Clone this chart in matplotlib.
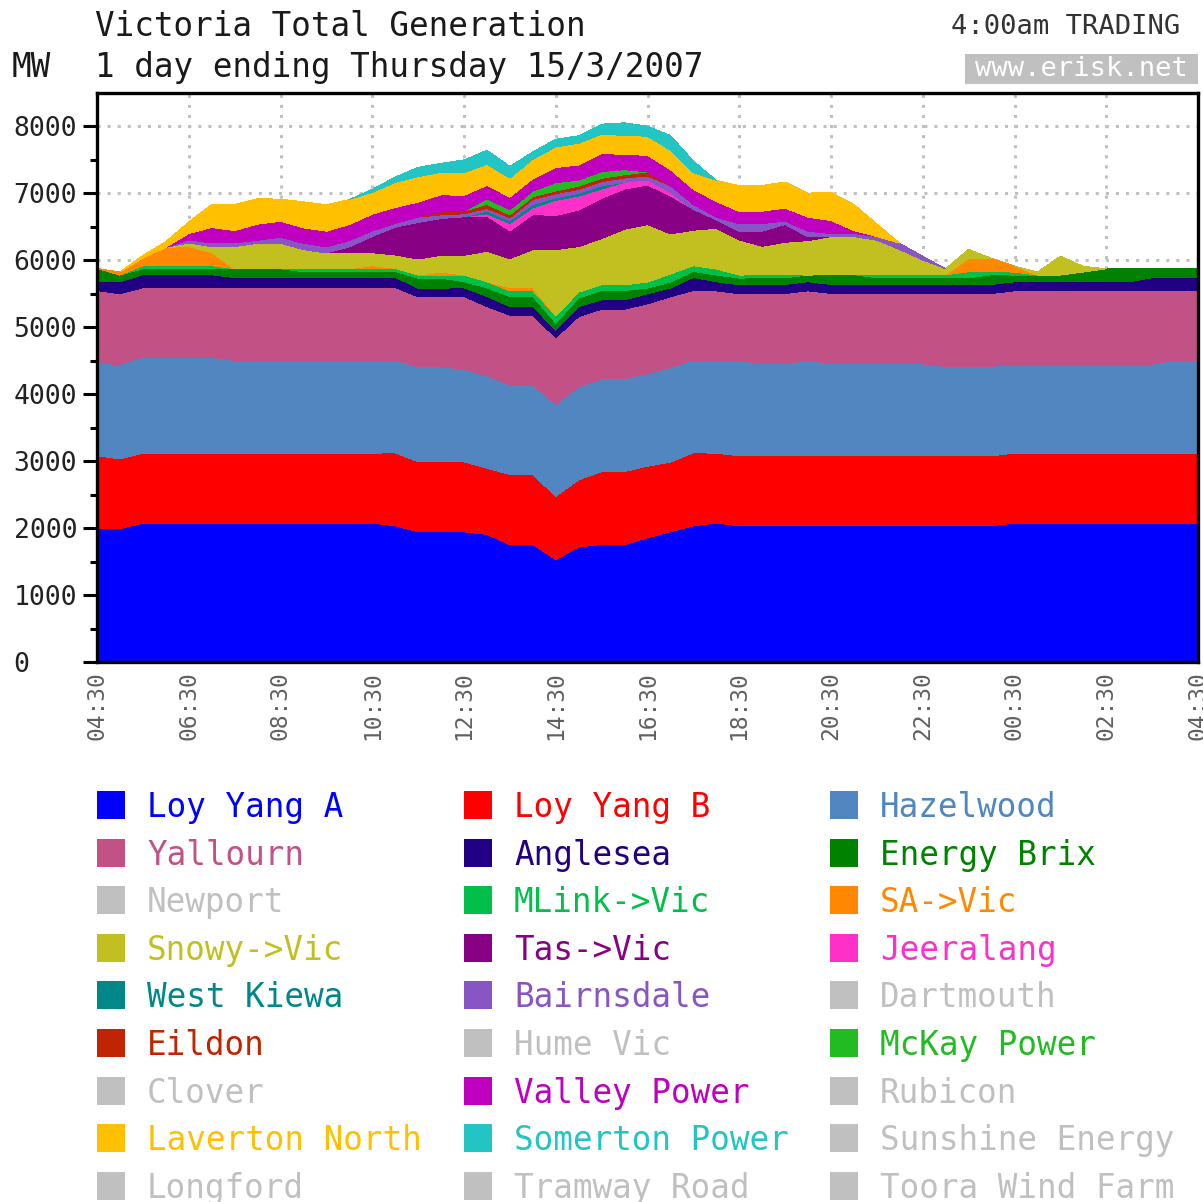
import numpy as np
import matplotlib
matplotlib.use('Agg')
import matplotlib.pyplot as plt
from matplotlib.patches import Rectangle

# half-hour periods, 04:30 -> 04:30 next day
periods = np.arange(49)
time_labels = ['04:30', '06:30', '08:30', '10:30', '12:30', '14:30', '16:30',
               '18:30', '20:30', '22:30', '00:30', '02:30', '04:30']

# MW per station
loy_yang_a = [1990, 1990, 2075, 2075, 2075, 2075, 2075, 2075, 2075, 2075, 2075, 2075, 2075,
              2035, 1945, 1945, 1945, 1905, 1755, 1755, 1530, 1720, 1755, 1755, 1855,
              1945, 2035, 2075, 2035, 2035, 2035, 2035, 2035, 2035, 2035, 2035, 2035,
              2035, 2035, 2035, 2075, 2075, 2075, 2075, 2075, 2075, 2075, 2075, 2075]
loy_yang_b = [1090, 1045, 1045, 1045, 1045, 1045, 1045, 1045, 1045, 1045, 1045, 1045, 1045,
              1090, 1045, 1045, 1045, 990, 1045, 1045, 945, 1000, 1090, 1090, 1070,
              1040, 1090, 1045, 1045, 1045, 1045, 1045, 1045, 1045, 1045, 1045, 1045,
              1045, 1045, 1045, 1045, 1045, 1045, 1045, 1045, 1045, 1045, 1045, 1045]
hazelwood = [1375, 1415, 1430, 1430, 1430, 1430, 1385, 1385, 1385, 1385, 1385, 1385, 1385,
             1385, 1420, 1420, 1380, 1380, 1335, 1335, 1375, 1390, 1385, 1385, 1380,
             1415, 1385, 1385, 1425, 1375, 1375, 1425, 1375, 1375, 1375, 1375, 1375,
             1335, 1335, 1335, 1330, 1330, 1330, 1330, 1330, 1330, 1330, 1385, 1385]
yallourn = [1095, 1050, 1040, 1040, 1040, 1040, 1085, 1085, 1085, 1085, 1085, 1085, 1085,
            1085, 1045, 1045, 1090, 1035, 1045, 1045, 995, 1050, 1040, 1040, 1045,
            1055, 1040, 1040, 995, 1050, 1050, 1040, 1050, 1050, 1050, 1050, 1050,
            1090, 1090, 1090, 1095, 1095, 1095, 1095, 1095, 1095, 1095, 1040, 1040]
anglesea = [135, 180, 195, 195, 195, 195, 150, 150, 150, 150, 150, 150, 150,
            150, 130, 130, 130, 150, 130, 130, 110, 150, 140, 140, 150,
            130, 195, 135, 135, 135, 135, 135, 135, 135, 135, 135, 135,
            135, 135, 135, 135, 135, 135, 135, 135, 135, 195, 195, 195]
energy_brix = [195, 100, 90, 90, 90, 90, 135, 135, 135, 90, 90, 90, 90,
               90, 150, 150, 90, 130, 150, 150, 105, 130, 140, 140, 85,
               90, 90, 100, 100, 100, 100, 100, 145, 145, 100, 100, 100,
               100, 100, 145, 100, 100, 100, 145, 195, 195, 135, 135, 135]
mlink = [0, 0, 45, 45, 45, 45, 0, 0, 0, 45, 45, 45, 45,
         45, 45, 45, 100, 90, 85, 85, 110, 85, 85, 85, 90,
         120, 85, 90, 45, 45, 45, 0, 0, 0, 45, 45, 45,
         45, 90, 45, 45, 0, 0, 0, 0, 0, 0, 0, 0]
sa_vic = [0, 45, 110, 275, 285, 195, 0, 0, 0, 0, 0, 0, 45,
          0, 0, 45, 0, 0, 45, 45, 0, 0, 0, 0, 0,
          0, 0, 0, 0, 0, 0, 0, 0, 0, 0, 0, 0,
          0, 200, 200, 90, 0, 0, 0, 0, 0, 0, 0, 0]
snowy_vic = [0, 0, 0, 0, 55, 90, 330, 380, 380, 285, 235, 235, 195,
             200, 240, 250, 295, 455, 435, 570, 990, 680, 690, 830, 860,
             600, 530, 610, 525, 425, 485, 515, 570, 570, 515, 375, 220,
             90, 135, 0, 0, 45, 285, 85, 0, 0, 0, 0, 0]
tas_vic = [0, 0, 0, 0, 0, 0, 0, 0, 0, 0, 0, 90, 240,
           415, 545, 550, 575, 525, 415, 525, 510, 545, 600, 600, 590,
           570, 310, 125, 125, 225, 265, 55, 0, 0, 0, 0, 0,
           0, 0, 0, 0, 0, 0, 0, 0, 0, 0, 0, 0]
jeeralang = [0] * 17 + [35, 110, 100, 225, 210, 140, 100, 75, 50] + [0] * 23
west_kiewa = [0] * 17 + [40, 45, 50, 40, 40, 50] + [0] * 26
bairnsdale = [0, 0, 0, 0, 45, 55, 55, 45, 90, 95, 90, 95, 85,
              55, 80, 55, 45, 40, 40, 75, 60, 60, 60, 65, 60,
              100, 75, 40, 115, 115, 50, 85, 45, 45, 55, 95, 55,
              0, 0, 0, 0, 0, 0, 0, 0, 0, 0, 0, 0]
eildon = [0] * 15 + [45, 40, 60, 45, 40, 40, 50, 50, 50, 60] + [0] * 24
mckay = [0] * 17 + [85, 75, 85, 125, 90, 100, 75] + [0] * 25
valley_power = [0, 0, 0, 0, 95, 230, 185, 240, 240, 230, 235, 240, 250,
                240, 225, 255, 235, 200, 190, 185, 225, 225, 275, 225, 250,
                240, 225, 235, 185, 185, 195, 210, 195, 45, 0, 0, 0,
                0, 0, 0, 0, 0, 0, 0, 0, 0, 0, 0, 0]
laverton_north = [0, 0, 45, 85, 175, 345, 390, 380, 330, 390, 395, 375, 325,
                  375, 380, 335, 340, 315, 285, 290, 310, 325, 285, 285, 285,
                  290, 250, 315, 385, 385, 390, 360, 420, 390, 190, 0, 0,
                  0, 0, 0, 0, 0, 0, 0, 0, 0, 0, 0, 0]
somerton = [0] * 12 + [45, 80, 140, 135, 190, 210, 175, 110, 115, 110, 150, 190, 150,
                       220, 175] + [0] * 22

zero = [0] * 49

# legend / stacking order
stations = [
    ('Loy Yang A', loy_yang_a, '#0000FF'),
    ('Loy Yang B', loy_yang_b, '#FF0000'),
    ('Hazelwood', hazelwood, '#5286C0'),
    ('Yallourn', yallourn, '#C25286'),
    ('Anglesea', anglesea, '#210084'),
    ('Energy Brix', energy_brix, '#008200'),
    ('Newport', zero, None),
    ('MLink->Vic', mlink, '#00C04C'),
    ('SA->Vic', sa_vic, '#FF8800'),
    ('Snowy->Vic', snowy_vic, '#C2C020'),
    ('Tas->Vic', tas_vic, '#880084'),
    ('Jeeralang', jeeralang, '#FF30C8'),
    ('West Kiewa', west_kiewa, '#008888'),
    ('Bairnsdale', bairnsdale, '#8855C4'),
    ('Dartmouth', zero, None),
    ('Eildon', eildon, '#C02400'),
    ('Hume Vic', zero, None),
    ('McKay Power', mckay, '#22BB22'),
    ('Clover', zero, None),
    ('Valley Power', valley_power, '#C000C0'),
    ('Rubicon', zero, None),
    ('Laverton North', laverton_north, '#FFC000'),
    ('Somerton Power', somerton, '#22C4C4'),
    ('Sunshine Energy', zero, None),
    ('Longford', zero, None),
    ('Tramway Road', zero, None),
    ('Toora Wind Farm', zero, None),
]
GREY = '#C0C0C0'

W, H = 1203, 1202
fig = plt.figure(figsize=(W / 100, H / 100), dpi=100)
fig.patch.set_facecolor('white')
mono = 'DejaVu Sans Mono'


def fx(x):
    return x / W


def fy(y):
    return 1 - y / H


ax = fig.add_axes([fx(97), fy(662), (1198 - 97) / W, (662 - 93) / H])

vals = [np.array(s[1], dtype=float) for s in stations]
cols = [s[2] if s[2] else GREY for s in stations]
ax.stackplot(periods, *vals, colors=cols, linewidth=0, antialiased=False)

ax.set_xlim(0, 48)
ax.set_ylim(0, 8500)
ax.set_axisbelow(True)
ax.grid(True, color=GREY, linestyle=(0, (1, 2.3)), linewidth=2.2)

for sp in ax.spines.values():
    sp.set_linewidth(2.4)
    sp.set_color('black')

ax.set_yticks(range(0, 8001, 1000))
ax.set_yticks(np.arange(500, 8500, 1000), minor=True)
ax.tick_params(axis='y', which='major', length=10, width=2.2, pad=50,
               labelsize=19, labelcolor='#222222')
ax.tick_params(axis='y', which='minor', length=5, width=2.2)
for lbl in ax.get_yticklabels():
    lbl.set_ha('left')
    lbl.set_family(mono)

ax.set_xticks(range(0, 49, 4))
ax.set_xticklabels(time_labels, rotation=90, family=mono, fontsize=16.5,
                   color='#606060')
ax.tick_params(axis='x', length=0, pad=7)

# header texts
fig.text(fx(95), fy(36), 'Victoria Total Generation', family=mono,
         fontsize=23.5, color='#1a1a1a', va='baseline')
fig.text(fx(95), fy(77), '1 day ending Thursday 15/3/2007', family=mono,
         fontsize=23.5, color='#1a1a1a', va='baseline')
fig.text(fx(12), fy(77), 'MW', family=mono, fontsize=23.5,
         color='#1a1a1a', va='baseline')
fig.text(fx(1180), fy(34), '4:00am TRADING', family=mono, fontsize=19.5,
         color='#333333', ha='right', va='baseline')
fig.patches.append(Rectangle((fx(965), fy(84)), (1198 - 965) / W, 30 / H,
                             transform=fig.transFigure, facecolor=GREY,
                             edgecolor='none'))
fig.text(fx(1081), fy(69), 'www.erisk.net', family=mono, fontsize=19.5,
         color='white', ha='center', va='center')

# legend grid, 3 columns
col_x = [97, 464, 830]
for i, (name, v, c) in enumerate(stations):
    r, cidx = divmod(i, 3)
    yc = 805 + r * 47.6
    colour = c if c else GREY
    x0 = col_x[cidx]
    fig.patches.append(Rectangle((fx(x0), fy(yc + 14)), 28 / W, 28 / H,
                                 transform=fig.transFigure,
                                 facecolor=colour, edgecolor='none'))
    fig.text(fx(x0 + 50), fy(yc + 12), name, family=mono, fontsize=23.5,
             color=colour, va='baseline')

fig.savefig('out.png', dpi=100)
